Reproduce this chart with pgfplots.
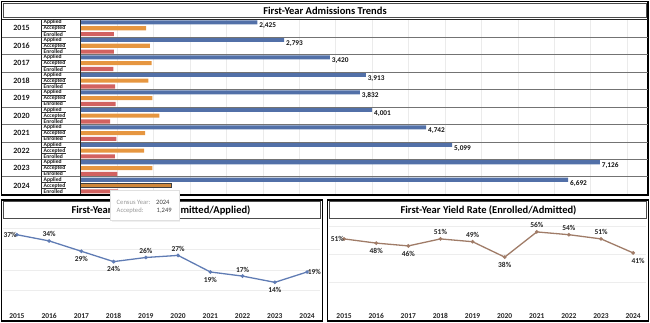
\documentclass[border=0pt]{standalone}
\usepackage{pgfplots}
\pgfplotsset{compat=1.18}
\usepackage{fontspec}
\setmainfont{Carlito}
\definecolor{cApp}{RGB}{82,112,168}
\definecolor{cAcc}{RGB}{230,150,64}
\definecolor{cEnr}{RGB}{210,98,96}
\definecolor{cAdm}{RGB}{96,124,180}
\definecolor{cYld}{RGB}{160,124,104}
\begin{document}
\begin{tikzpicture}[x=1pt,y=1pt]
\useasboundingbox (0,0) rectangle (650,-322);
% ---------------- top panel ----------------
\begin{axis}[at={(80.7pt,-194.3pt)}, anchor=south west,
  width=565.3pt, height=174.8pt, scale only axis,
  xmin=0, xmax=7760, ymin=-29.5, ymax=0.5,
  xbar, bar width=0.7, bar shift=0pt,
  axis line style={draw=none}, major tick length=0pt,
  xtick={0,500,...,7500}, xticklabels={}, ytick=\empty,
  xmajorgrids, grid style={black!8, line width=0.5pt},
  clip=false,
  /pgf/number format/.cd, fixed, precision=0, 1000 sep={,}, assume math mode=true]
\addplot[fill=cApp, draw=none, point meta=x, nodes near coords,
  every node near coord/.append style={anchor=west, font=\bfseries\fontsize{7.3}{8}\selectfont, text=black!92, yshift=-3.4pt, xshift=-1.5pt}]
  coordinates {(2425,0) (2793,-3) (3420,-6) (3913,-9) (3832,-12) (4001,-15) (4742,-18) (5099,-21) (7126,-24) (6692,-27)};
\addplot[fill=cAcc, draw=none]
  coordinates {(897,-1) (950,-4) (975,-7) (930,-10) (985,-13) (1080,-16) (885,-19) (870,-22) (985,-25)};
\addplot[fill=cAcc!90!black, draw=black!75, line width=0.6pt]
  coordinates {(1249,-28)};
\addplot[fill=cEnr, draw=none]
  coordinates {(457,-2) (455,-5) (448,-8) (472,-11) (478,-14) (405,-17) (490,-20) (470,-23) (505,-26) (512,-29)};
\end{axis}
% frame and title
\draw[line width=1.6pt] (1.5,-1.5) rectangle (648,-195.2);
\draw[black!70, line width=0.8pt] (3,-3) rectangle (646.5,-17.8);
\node[font=\bfseries\fontsize{10.5}{12}\selectfont] at (325,-10.4) {First-Year Admissions Trends};
% table lines and labels
\draw[black!85, line width=0.8pt] (1.5,-19.5) -- (648,-19.5);
\foreach \k in {1,...,9} {
  \draw[black!55, line width=0.7pt] (1.5,{-19.5-17.48*\k}) -- (648,{-19.5-17.48*\k});
}
\draw[black!85, line width=0.8pt] (41,-19.5) -- (41,-194.3);
\draw[black!85, line width=0.8pt] (80.5,-19.5) -- (80.5,-194.3);
\foreach \i/\yr in {0/2015,1/2016,2/2017,3/2018,4/2019,5/2020,6/2021,7/2022,8/2023,9/2024} {
  \node[font=\bfseries\fontsize{8}{9}\selectfont, text=black!90] at (21.5,{-19.5-17.48*\i-8.74}) {\yr};
  \node[anchor=west, font=\bfseries\fontsize{5.6}{6}\selectfont, text=black!90, inner sep=0pt] at (43.5,{-19.5-17.48*\i-2.95}) {Applied};
  \node[anchor=west, font=\bfseries\fontsize{5.6}{6}\selectfont, text=black!90, inner sep=0pt] at (43.5,{-19.5-17.48*\i-8.78}) {Accepted};
  \node[anchor=west, font=\bfseries\fontsize{5.6}{6}\selectfont, text=black!90, inner sep=0pt] at (43.5,{-19.5-17.48*\i-14.6}) {Enrolled};
  \draw[black!80, line width=0.5pt] (41,{-19.5-17.48*\i-5.83}) -- (66,{-19.5-17.48*\i-5.83});
  \draw[black!80, line width=0.5pt] (41,{-19.5-17.48*\i-11.66}) -- (66,{-19.5-17.48*\i-11.66});
}
% ---------------- bottom left ----------------
\begin{axis}[at={(3pt,-311.3pt)}, anchor=south west,
  width=317pt, height=91.3pt, scale only axis,
  xmin=2014.57, xmax=2024.4, ymin=0, ymax=44.1,
  axis line style={draw=none}, major tick length=0pt,
  ytick={10,20,30,40}, yticklabels={}, ymajorgrids, grid style={black!7, line width=0.5pt},
  xtick={2015,...,2024}, xticklabels={2015,2016,2017,2018,2019,2020,2021,2022,2023,2024},
  xticklabel style={font=\bfseries\fontsize{7.5}{9}\selectfont, text=black!85, anchor=base, yshift=-7pt},
  clip=false,
  /pgf/number format/.cd, fixed, precision=0, assume math mode=true]
\addplot[cAdm, line width=1.3pt, mark=*, mark size=1.1pt]
  coordinates {(2015,37) (2016,34) (2017,29) (2018,24) (2019,26) (2020,27) (2021,19) (2022,17) (2023,14) (2024,19)};
\addplot[draw=none, mark=none, point meta=y, nodes near coords={\pgfmathprintnumber{\pgfplotspointmeta}\%},
  every node near coord/.append style={anchor=south, font=\bfseries\fontsize{7.5}{9}\selectfont, text=black!85, yshift=0.5pt}]
  coordinates {(2016,34) (2019,26) (2020,27) (2022,17)};
\addplot[draw=none, mark=none, point meta=y, nodes near coords={\pgfmathprintnumber{\pgfplotspointmeta}\%},
  every node near coord/.append style={anchor=north, font=\bfseries\fontsize{7.5}{9}\selectfont, text=black!85, yshift=-1.5pt}]
  coordinates {(2017,29) (2018,24) (2021,19) (2023,14)};
\addplot[draw=none, mark=none, point meta=y, nodes near coords={\pgfmathprintnumber{\pgfplotspointmeta}\%},
  every node near coord/.append style={anchor=east, font=\bfseries\fontsize{7.5}{9}\selectfont, text=black!85, inner sep=0.5pt, xshift=0.5pt}]
  coordinates {(2015,37)};
\addplot[draw=none, mark=none, point meta=y, nodes near coords={\pgfmathprintnumber{\pgfplotspointmeta}\%},
  every node near coord/.append style={anchor=west, font=\bfseries\fontsize{7.5}{9}\selectfont, text=black!85, inner sep=0.5pt}]
  coordinates {(2024,19)};
\end{axis}
\draw[line width=1.6pt] (1.5,-200) rectangle (322.5,-320.8);
\draw[black!70, line width=0.8pt] (3.2,-201.8) rectangle (320.8,-218);
\node[font=\bfseries\fontsize{10.5}{12}\selectfont] at (161,-210) {First-Year Admit Rate (Admitted/Applied)};
% ---------------- bottom right ----------------
\begin{axis}[at={(329pt,-310.3pt)}, anchor=south west,
  width=317pt, height=90.3pt, scale only axis,
  xmin=2014.53, xmax=2024.4, ymin=0, ymax=64.5,
  axis line style={draw=none}, major tick length=0pt,
  ytick={20,40,60}, yticklabels={}, ymajorgrids, grid style={black!7, line width=0.5pt},
  xtick={2015,...,2024}, xticklabels={2015,2016,2017,2018,2019,2020,2021,2022,2023,2024},
  xticklabel style={font=\bfseries\fontsize{7.5}{9}\selectfont, text=black!85, anchor=base, yshift=-8pt},
  clip=false,
  /pgf/number format/.cd, fixed, precision=0, assume math mode=true]
\addplot[cYld, line width=1.3pt, mark=*, mark size=1.1pt]
  coordinates {(2015,51) (2016,48) (2017,46) (2018,51) (2019,49) (2020,38) (2021,56) (2022,54) (2023,51) (2024,41)};
\addplot[draw=none, mark=none, point meta=y, nodes near coords={\pgfmathprintnumber{\pgfplotspointmeta}\%},
  every node near coord/.append style={anchor=south, font=\bfseries\fontsize{7.5}{9}\selectfont, text=black!85, yshift=0.5pt}]
  coordinates {(2018,51) (2019,49) (2021,56) (2022,54) (2023,51)};
\addplot[draw=none, mark=none, point meta=y, nodes near coords={\pgfmathprintnumber{\pgfplotspointmeta}\%},
  every node near coord/.append style={anchor=north, font=\bfseries\fontsize{7.5}{9}\selectfont, text=black!85, yshift=-1.5pt}]
  coordinates {(2016,48) (2017,46) (2020,38)};
\addplot[draw=none, mark=none, point meta=y, nodes near coords={\pgfmathprintnumber{\pgfplotspointmeta}\%},
  every node near coord/.append style={anchor=north, font=\bfseries\fontsize{7.5}{9}\selectfont, text=black!85, yshift=-1.5pt, xshift=5pt}]
  coordinates {(2024,41)};
\addplot[draw=none, mark=none, point meta=y, nodes near coords={\pgfmathprintnumber{\pgfplotspointmeta}\%},
  every node near coord/.append style={anchor=east, font=\bfseries\fontsize{7.5}{9}\selectfont, text=black!85, inner sep=0.5pt, xshift=0.5pt}]
  coordinates {(2015,51)};
\end{axis}
\draw[line width=1.6pt] (327.5,-200) rectangle (648.3,-320.8);
\draw[black!70, line width=0.8pt] (329.2,-201.8) rectangle (646.6,-218);
\node[font=\bfseries\fontsize{10.5}{12}\selectfont] at (488.5,-210) {First-Year Yield Rate (Enrolled/Admitted)};
% ---------------- tooltip ----------------
\fill[black!6] (111.5,-191) rectangle (180.3,-221.7);
\draw[black!12, fill=white, line width=0.6pt] (110.7,-190) rectangle (179.3,-220.7);
\node[anchor=base west, font=\fontsize{6.6}{8}\selectfont, text=black!40, inner sep=0pt] at (116.5,-204.3) {Census Year:};
\node[anchor=base west, font=\fontsize{6.6}{8}\selectfont, text=black!75, inner sep=0pt] at (156,-204.3) {2024};
\node[anchor=base west, font=\fontsize{6.6}{8}\selectfont, text=black!40, inner sep=0pt] at (116.5,-212.8) {Accepted:};
\node[anchor=base west, font=\fontsize{6.6}{8}\selectfont, text=black!75, inner sep=0pt] at (156.5,-212.8) {1,249};
\end{tikzpicture}
\end{document}
